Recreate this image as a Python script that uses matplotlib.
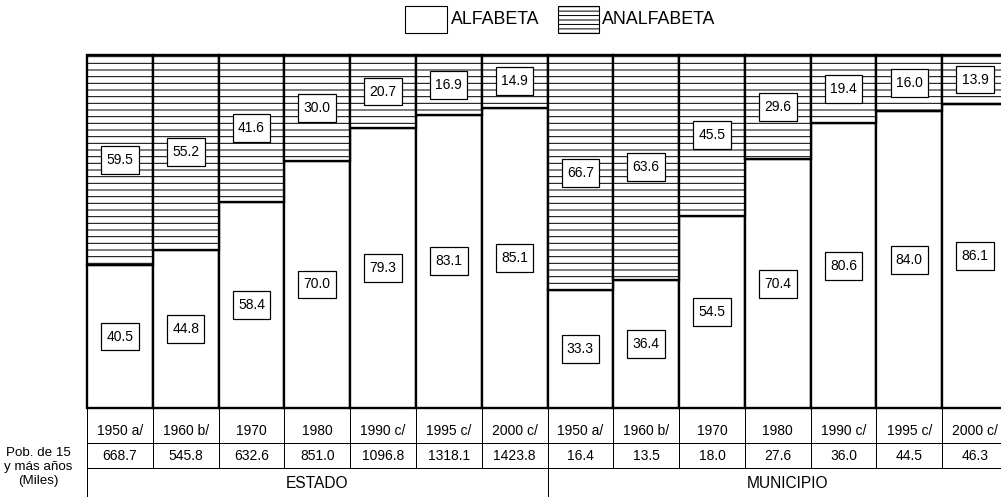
import matplotlib
matplotlib.use('Agg')
import matplotlib.pyplot as plt
from matplotlib.patches import Rectangle
from matplotlib.path import Path
from matplotlib.transforms import blended_transform_factory

# Datos (%)
estado_alf = [40.5, 44.8, 58.4, 70.0, 79.3, 83.1, 85.1]
estado_anal = [59.5, 55.2, 41.6, 30.0, 20.7, 16.9, 14.9]
mun_alf = [33.3, 36.4, 54.5, 70.4, 80.6, 84.0, 86.1]
mun_anal = [66.7, 63.6, 45.5, 29.6, 19.4, 16.0, 13.9]

years = ['1950 a/', '1960 b/', '1970', '1980', '1990 c/', '1995 c/', '2000 c/']
pob_estado = ['668.7', '545.8', '632.6', '851.0', '1096.8', '1318.1', '1423.8']
pob_mun = ['16.4', '13.5', '18.0', '27.6', '36.0', '44.5', '46.3']
groups = ['ESTADO', 'MUNICIPIO']

plt.rcParams['font.family'] = ['Liberation Sans', 'DejaVu Sans']
plt.rcParams['hatch.linewidth'] = 0.9

W, H, DPI = 1001, 497, 80
fig = plt.figure(figsize=(W / DPI, H / DPI), dpi=DPI)


def fy(p):
    # pixel fila -> fraccion de figura
    return 1 - p / H


def tall_box(x0, y0, width, height, mutation_size):
    # caja rectangular algo mas alta que ancha
    px, py = 0.38 * mutation_size, 0.5 * mutation_size
    x0, y0 = x0 - px, y0 - py
    x1, y1 = x0 + width + 2 * px, y0 + height + 2 * py
    return Path([(x0, y0), (x1, y0), (x1, y1), (x0, y1), (x0, y0)], closed=True)


# ejes de barras: de y=55 a y=408 px
ax = fig.add_axes([87 / W, fy(408), (1008 - 87) / W, (408 - 55) / H])
ax.set_xlim(-0.5, 13.5)
ax.set_ylim(0, 100)
ax.axis('off')

alf = estado_alf + mun_alf
anal = estado_anal + mun_anal
x = list(range(len(alf)))

ax.bar(x, alf, width=1, color='white', edgecolor='black', lw=2.1, clip_on=False)
ax.bar(x, anal, bottom=alf, width=1, color='white', edgecolor='black', lw=2.1,
       hatch='--', clip_on=False)

box = dict(boxstyle=tall_box, fc='white', ec='black', lw=1.1)
for i in x:
    ax.text(i, alf[i] / 2, f'{alf[i]:.1f}', ha='center', va='center',
            fontsize=12.5, bbox=box)
    ax.text(i, alf[i] + anal[i] / 2, f'{anal[i]:.1f}', ha='center', va='center',
            fontsize=12.5, bbox=box)

# tabla inferior
tr = blended_transform_factory(ax.transData, fig.transFigure)
for p in (408, 443, 468):
    ax.plot([-0.5, 13.5], [fy(p), fy(p)], transform=tr, color='black', lw=0.9,
            clip_on=False)
for k in range(15):
    xe = k - 0.5
    bottom = 497 if k in (0, 7) else 468
    ax.plot([xe, xe], [fy(408), fy(bottom)], transform=tr, color='black',
            lw=0.9, clip_on=False)

labels_pob = pob_estado + pob_mun
for i in x:
    ax.text(i, fy(431), years[i % 7], transform=tr, ha='center', va='center',
            fontsize=12.5)
    ax.text(i, fy(456), labels_pob[i], transform=tr, ha='center', va='center',
            fontsize=12.5)

ax.text(3, fy(483), groups[0], transform=tr, ha='center', va='center', fontsize=14)
ax.text(10.15, fy(483), groups[1], transform=tr, ha='center', va='center', fontsize=14)

fig.text(38 / W, fy(467), 'Pob. de 15\ny más años\n(Miles)', ha='center',
         va='center', fontsize=12, linespacing=1.2)

# leyenda
fig.patches.append(Rectangle((405 / W, fy(33)), 42 / W, 27 / H, transform=fig.transFigure,
                             fc='white', ec='black', lw=1))
fig.patches.append(Rectangle((558 / W, fy(33)), 41 / W, 27 / H, transform=fig.transFigure,
                             fc='white', ec='black', lw=1, hatch='---'))
fig.text(451 / W, fy(19), 'ALFABETA', ha='left', va='center', fontsize=16)
fig.text(602 / W, fy(19), 'ANALFABETA', ha='left', va='center', fontsize=16)

fig.savefig('out.png', dpi=DPI)
